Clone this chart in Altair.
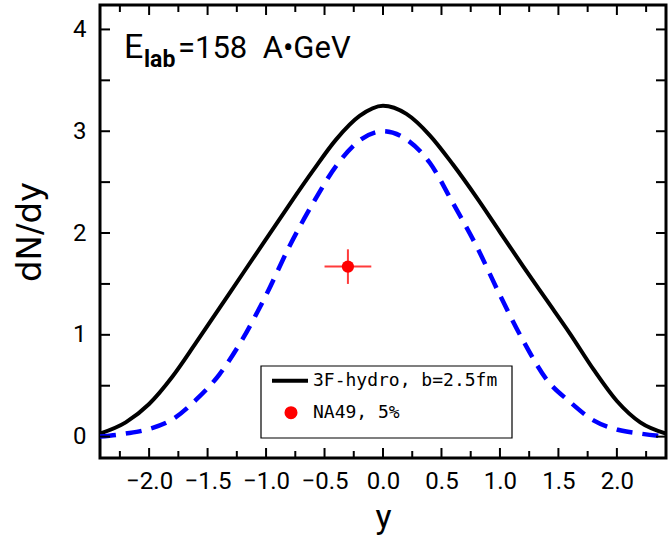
import altair as alt
import pandas as pd

# ---------------- data ----------------
rap = [-2.42, -2.2, -2.0, -1.8, -1.6, -1.4, -1.2, -1.0, -0.8, -0.6, -0.4, -0.2, 0.0,
       0.2, 0.4, 0.6, 0.8, 1.0, 1.2, 1.4, 1.6, 1.8, 2.0, 2.2, 2.42]
hydro_3f = [0.03, 0.14, 0.32, 0.59, 0.92, 1.26, 1.60, 1.94, 2.28, 2.61, 2.92, 3.15, 3.25,
            3.17, 2.96, 2.67, 2.35, 2.01, 1.67, 1.34, 1.01, 0.66, 0.35, 0.14, 0.03]
hydro_dash = [0.0, 0.03, 0.075, 0.17, 0.36, 0.61, 0.96, 1.39, 1.87, 2.29, 2.66, 2.91, 3.0,
              2.92, 2.69, 2.29, 1.87, 1.39, 0.94, 0.56, 0.34, 0.16, 0.07, 0.03, 0.0]

na49_rap = [-0.30]
na49_val = [1.67]
na49_rap_err = [0.20]
na49_val_err = [0.17]

x_major = [-2.0, -1.5, -1.0, -0.5, 0.0, 0.5, 1.0, 1.5, 2.0]
x_minor = [-2.25, -1.75, -1.25, -0.75, -0.25, 0.25, 0.75, 1.25, 1.75, 2.25]
y_major = [0, 1, 2, 3, 4]
y_minor = [0.5, 1.5, 2.5, 3.5]

legend_labels = ["3F-hydro, b=2.5fm", "NA49, 5%"]
title_parts = ["E", "lab", "=158\u00a0 A•GeV"]

# ---------------- layout ----------------
W, H = 566, 453
FONT = "Roboto"
xs = alt.Scale(domain=[-2.42, 2.42], nice=False, zero=False)
ysc = alt.Scale(domain=[-0.21, 4.24], nice=False, zero=False)

xaxis = alt.Axis(values=x_major, format=".1f", ticks=False, domain=False, grid=False,
                 labelFont=FONT, labelFontSize=24, labelPadding=11, labelColor="black",
                 labelFlush=False, labelOverlap=False,
                 title="y", titleFont=FONT, titleFontSize=34, titleFontWeight="normal",
                 titleColor="black", titleBaseline="alphabetic", titleY=69)
yaxis = alt.Axis(values=y_major, format="d", ticks=False, domain=False, grid=False,
                 labelFont=FONT, labelFontSize=24, labelPadding=14, labelColor="black",
                 labelFlush=False, labelOverlap=False,
                 title="dN/dy", titleFont="DejaVu Sans", titleFontSize=34, titleFontWeight="normal",
                 titleColor="black", titleBaseline="bottom", titleX=-53, titleAngle=270)


def X(field):
    return alt.X(field, scale=xs, axis=xaxis)


def Y(field):
    return alt.Y(field, scale=ysc, axis=yaxis)


curves = pd.DataFrame({"rap": rap, "solid": hydro_3f, "dash": hydro_dash})

solid = alt.Chart(curves).mark_line(color="black", strokeWidth=4, clip=True,
                                    interpolate="monotone").encode(x=X("rap:Q"), y=Y("solid:Q"))
dash = alt.Chart(curves).mark_line(color="#0000ff", strokeWidth=4.5, strokeDash=[16, 10],
                                   clip=True, interpolate="monotone").encode(
    x=X("rap:Q"), y=Y("dash:Q"))


def xticks(vals, y0, y1):
    return alt.Chart(pd.DataFrame({"v": vals})).mark_rule(color="black", strokeWidth=2).encode(
        x=X("v:Q"), y=alt.value(y0), y2=alt.value(y1))


def yticks(vals, x0, x1):
    return alt.Chart(pd.DataFrame({"v": vals})).mark_rule(color="black", strokeWidth=2).encode(
        y=Y("v:Q"), x=alt.value(x0), x2=alt.value(x1))


ticks = [
    xticks(x_major, H, H - 10), xticks(x_major, 0, 10),
    xticks(x_minor, H, H - 7), xticks(x_minor, 0, 7),
    yticks(y_major, 0, 10), yticks(y_major, W, W - 10),
    yticks(y_minor, 0, 10), yticks(y_minor, W, W - 10),
]

na = pd.DataFrame({"rap": na49_rap, "val": na49_val,
                   "rerr": na49_rap_err, "verr": na49_val_err})
na_base = alt.Chart(na).transform_calculate(
    rlo="datum.rap - datum.rerr", rhi="datum.rap + datum.rerr",
    vlo="datum.val - datum.verr", vhi="datum.val + datum.verr")
hbar = na_base.mark_rule(color="#ff3b3b", strokeWidth=2).encode(
    x=X("rlo:Q"), x2="rhi:Q", y=Y("val:Q"))
vbar = na_base.mark_rule(color="#ff3b3b", strokeWidth=2).encode(
    x=X("rap:Q"), y=Y("vlo:Q"), y2="vhi:Q")
dot = na_base.mark_circle(color="#ff0000", size=150, opacity=1).encode(
    x=X("rap:Q"), y=Y("val:Q"))

one = pd.DataFrame({"a": [0]})
leg_box = alt.Chart(one).mark_rect(fill="white", stroke="black", strokeWidth=1.2).encode(
    x=alt.value(161), x2=alt.value(412), y=alt.value(361), y2=alt.value(433))
leg_line = alt.Chart(one).mark_rule(color="black", strokeWidth=4).encode(
    x=alt.value(172), x2=alt.value(208), y=alt.value(375.7))
leg_dot = alt.Chart(one).mark_circle(color="#ff0000", size=170, opacity=1).encode(
    x=alt.value(191), y=alt.value(407.7))
leg_t1 = alt.Chart(pd.DataFrame({"label": [legend_labels[0]]})).mark_text(
    align="left", baseline="middle", font="DejaVu Sans Mono", fontSize=18, color="black").encode(
    x=alt.value(213), y=alt.value(375.7), text="label:N")
leg_t2 = alt.Chart(pd.DataFrame({"label": [legend_labels[1]]})).mark_text(
    align="left", baseline="middle", font="DejaVu Sans Mono", fontSize=18, color="black").encode(
    x=alt.value(213), y=alt.value(407.7), text="label:N")

t_e = alt.Chart(pd.DataFrame({"t": [title_parts[0]]})).mark_text(
    align="left", baseline="alphabetic", font=FONT, fontSize=34, color="black").encode(
    x=alt.value(24), y=alt.value(53.3), text="t:N")
t_sub = alt.Chart(pd.DataFrame({"t": [title_parts[1]]})).mark_text(
    align="left", baseline="alphabetic", font=FONT, fontSize=23, fontWeight="bold",
    color="black").encode(x=alt.value(44), y=alt.value(61.7), text="t:N")
t_rest = alt.Chart(pd.DataFrame({"t": [title_parts[2]]})).mark_text(
    align="left", baseline="alphabetic", font=FONT, fontSize=31, color="black").encode(
    x=alt.value(78), y=alt.value(53.3), text="t:N")

chart = alt.layer(
    solid, dash, *ticks, leg_box, leg_line, leg_dot, leg_t1, leg_t2,
    hbar, vbar, dot, t_e, t_sub, t_rest
).properties(
    width=W, height=H,
    padding={"left": 100, "top": 5, "right": 2, "bottom": 77},
    autosize=alt.AutoSizeParams(type="none"),
    background="white",
).configure_view(stroke="black", strokeWidth=3)

chart.save("out.html", embed_options={"renderer": "svg", "actions": False})
